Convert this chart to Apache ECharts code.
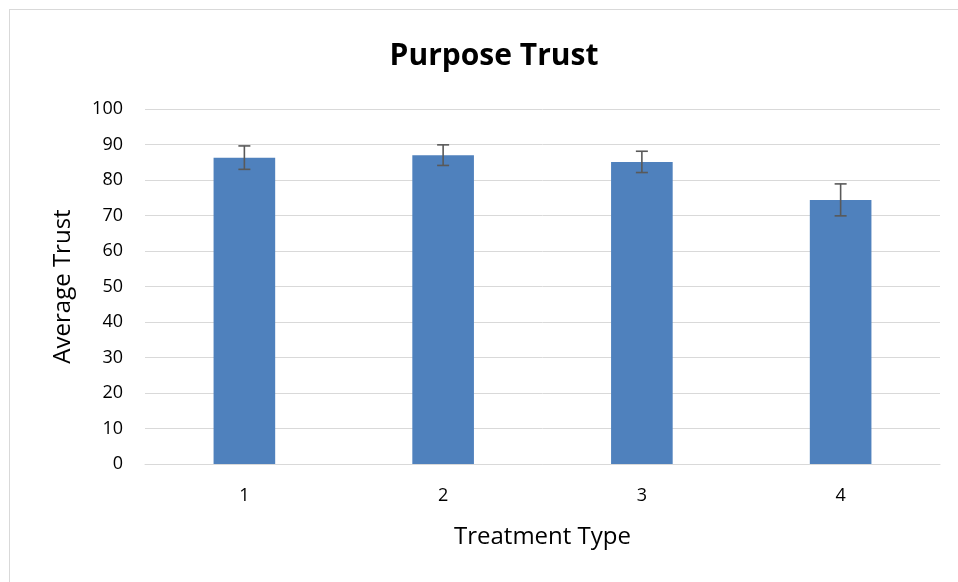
<!DOCTYPE html>
<html><head><meta charset="utf-8">
<script src="https://cdn.jsdelivr.net/npm/echarts@6/dist/echarts.min.js"></script>
<style>html,body{margin:0;padding:0;background:#fff}#c{width:958px;height:582px}
#frame{position:absolute;left:9px;top:9px;width:960px;height:600px;border:1px solid #d9d9d9;pointer-events:none}</style>
</head><body>
<div id="c"></div><div id="frame"></div>
<script>
const categories = ['1','2','3','4'];
const means = [86.3, 87.0, 85.1, 74.4];
const errors = [3.3, 2.9, 3.0, 4.5];
const yTicks = [0,10,20,30,40,50,60,70,80,90,100];

const chart = echarts.init(document.getElementById('c'));
const ff = '"Open Sans", "Liberation Sans", sans-serif';
chart.setOption({
  animation:false,
  title:{text:'Purpose Trust', left:489, top:36, textAlign:'center',
    textStyle:{fontFamily:ff, fontSize:30, fontWeight:'bold', color:'#000'}},
  grid:{left:145, right:18, top:109, bottom:118},
  xAxis:{type:'category', data:categories,
    name:'Treatment Type', nameLocation:'middle', nameGap:61,
    nameTextStyle:{fontFamily:ff, fontSize:24, color:'#000'},
    axisLine:{lineStyle:{color:'#d9d9d9'}}, axisTick:{show:false},
    axisLabel:{fontFamily:ff, fontSize:18, color:'#000', margin:23}},
  yAxis:{type:'value', min:0, max:100, interval:10,
    name:'Average Trust', nameLocation:'middle', nameGap:70,
    nameTextStyle:{fontFamily:ff, fontSize:24, color:'#000'},
    axisLine:{show:false}, axisTick:{show:false},
    axisLabel:{fontFamily:ff, fontSize:18, color:'#000', margin:22},
    splitLine:{lineStyle:{color:'#d9d9d9', width:1}}},
  series:[
    {type:'bar', data:means, barWidth:'31%', itemStyle:{color:'#4F81BD'}},
    {type:'custom', data:means.map((m,i)=>[i, m-errors[i], m+errors[i]]),
     renderItem:function(params, api){
       const x = api.value(0);
       const lo = api.coord([x, api.value(1)]);
       const hi = api.coord([x, api.value(2)]);
       const hw = 6;
       const st = {stroke:'#595959', lineWidth:1.6, fill:null};
       return {type:'group', children:[
         {type:'line', shape:{x1:lo[0], y1:lo[1], x2:hi[0], y2:hi[1]}, style:st},
         {type:'line', shape:{x1:lo[0]-hw, y1:lo[1], x2:lo[0]+hw, y2:lo[1]}, style:st},
         {type:'line', shape:{x1:hi[0]-hw, y1:hi[1], x2:hi[0]+hw, y2:hi[1]}, style:st}
       ]};
     }, z:5}
  ]
});
</script>
</body></html>
